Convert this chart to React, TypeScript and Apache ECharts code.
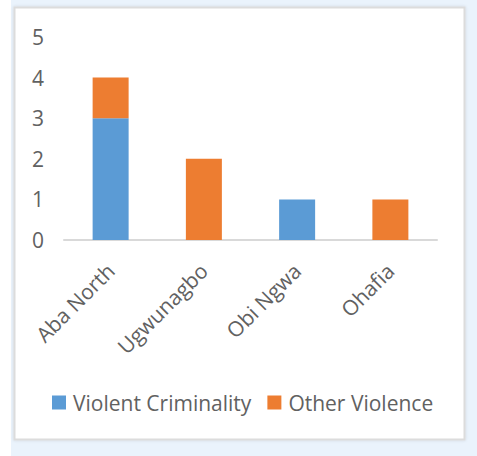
import React, { useEffect, useRef } from "react";
import * as echarts from "echarts";

const categories = ["Aba North", "Ugwunagbo", "Obi Ngwa", "Ohafia"];
const violentCriminality = [3, null, 1, null];
const otherViolence = [1, 2, null, 1];
const seriesNames = ["Violent Criminality", "Other Violence"];

const FONT = "'Open Sans', sans-serif";
const TEXT = "#616161";
const FS = 21;

export default function App() {
  const ref = useRef<HTMLDivElement>(null);
  useEffect(() => {
    if (!ref.current) return;
    const chart = echarts.init(ref.current, undefined, { renderer: "svg" });
    chart.setOption({
      animation: false,
      backgroundColor: "#ffffff",
      textStyle: { fontFamily: FONT },
      graphic: [
        {
          type: "rect",
          z: -10,
          silent: true,
          shape: { x: 11, y: 0, width: 466, height: 456 },
          style: { fill: "#eaf3fc" },
        },
        {
          type: "rect",
          z: -9,
          silent: true,
          shape: { x: 14.5, y: 7.5, width: 450, height: 432 },
          style: {
            fill: "#ffffff",
            stroke: "#dcdcdc",
            lineWidth: 2,
            shadowBlur: 3,
            shadowColor: "rgba(0,0,0,0.12)",
          },
        },
      ],
      grid: { left: 64, right: 40, top: 37, bottom: 216, containLabel: false },
      legend: {
        left: 52,
        top: 392,
        padding: 0,
        itemWidth: 14,
        itemHeight: 14,
        itemGap: 16,
        icon: "rect",
        textStyle: { color: TEXT, fontSize: FS, fontFamily: FONT, padding: [0, 0, 0, 2] },
        data: seriesNames,
      },
      xAxis: {
        type: "category",
        data: categories,
        axisLine: { lineStyle: { color: "#d9d9d9", width: 2 } },
        axisTick: { show: false },
        axisLabel: {
          rotate: 45,
          margin: 27,
          color: TEXT,
          fontSize: FS,
          fontFamily: FONT,
        },
      },
      yAxis: {
        type: "value",
        min: 0,
        max: 5,
        interval: 1,
        splitLine: { show: false },
        axisLine: { show: false },
        axisTick: { show: false },
        axisLabel: { color: TEXT, fontSize: FS, margin: 20, fontFamily: FONT },
      },
      series: [
        {
          name: seriesNames[0],
          type: "bar",
          stack: "total",
          barWidth: 36,
          data: violentCriminality,
          itemStyle: { color: "#5b9bd5" },
        },
        {
          name: seriesNames[1],
          type: "bar",
          stack: "total",
          barWidth: 36,
          data: otherViolence,
          itemStyle: { color: "#ed7d31" },
        },
      ],
    });
    return () => chart.dispose();
  }, []);
  return (
    <div
      ref={ref}
      style={{ position: "fixed", left: 0, top: 0, width: 477, height: 456 }}
    />
  );
}
